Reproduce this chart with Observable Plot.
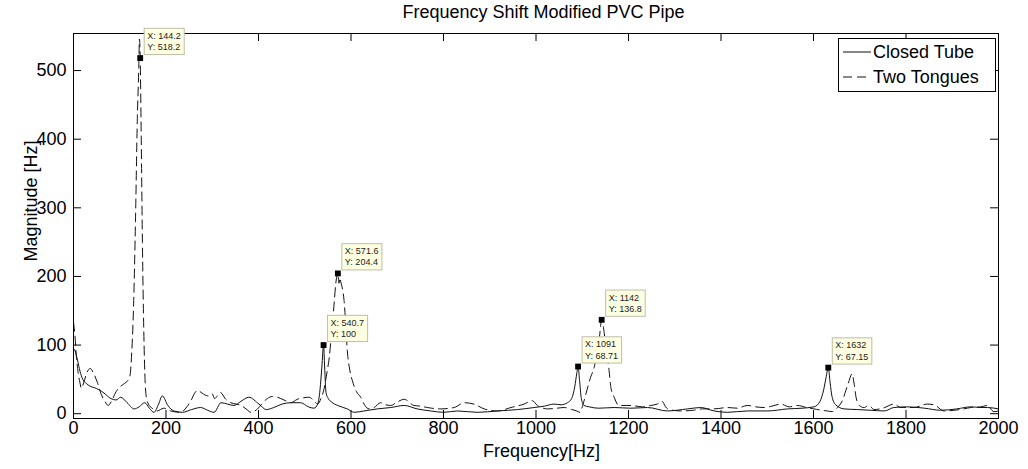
<!DOCTYPE html>
<html>
<head>
<meta charset="utf-8">
<script src="https://cdn.jsdelivr.net/npm/d3@7"></script>
<script src="https://cdn.jsdelivr.net/npm/@observablehq/plot@0.6"></script>
<style>
  html, body { margin: 0; padding: 0; background: #fff; }
  body { width: 1028px; height: 469px; overflow: hidden; font-family: "Liberation Sans", Arial, Helvetica, sans-serif; }
  #title { height: 20px; line-height: 24px; font-size: 18px; text-align: center; color: #000;
           padding-left: 89px; width: 909px; white-space: nowrap; }
  #chart svg { display: block; }
</style>
</head>
<body>
<div id="title">Frequency Shift Modified PVC Pipe</div>
<div id="chart"></div>
<script>
// ---- data ----
const closedTubeFreq = [0, 3, 8, 14, 20, 28, 36, 45, 55, 66, 81, 92, 102, 116, 131, 142, 154, 164, 174, 184, 192, 204, 217, 236, 255, 275, 290, 304, 319, 333, 347, 362, 379, 401, 417, 433, 451, 470, 491, 508, 520, 528, 533, 537, 540.7, 543, 546, 551, 558, 571, 592, 607, 628, 657, 686, 715, 743, 772, 801, 830, 873, 917, 960, 996, 1018, 1039, 1054, 1068, 1077, 1084, 1088, 1091, 1094, 1098, 1104, 1115, 1135, 1169, 1205, 1241, 1284, 1328, 1356, 1385, 1414, 1457, 1501, 1544, 1575, 1601, 1614, 1622, 1627, 1632, 1636, 1640, 1648, 1666, 1695, 1724, 1753, 1774, 1803, 1840, 1875, 1910, 1940, 1962, 1976, 2000];
const closedTubeMag = [95, 92, 80, 62, 50, 44, 40, 38, 35, 30, 22, 20, 24, 16, 7, 10, 16, 8, 2, 14, 26, 12, 4, 2, 6, 9, 5, 2, 16, 14, 12, 18, 24, 14, 6, 9, 14, 16, 16, 10, 8, 14, 35, 68, 100, 68, 31, 22, 17, 12, 7, 2, 4, 7, 9, 12, 7, 4, 2, 4, 2, 4, 6, 9, 11, 14, 13, 16, 22, 40, 58, 68.71, 50, 22, 12, 10, 8, 9, 8, 9, 4, 7, 9, 4, 2, 4, 4, 7, 8, 10, 18, 35, 52, 67.15, 45, 25, 13, 7, 6, 5, 4, 9, 10, 8, 5, 7, 10, 9, 9, 7];

const twoTonguesFreq = [0, 3, 6, 10, 14, 17, 22, 28, 36, 44, 52, 60, 68, 75, 82, 92, 102, 110, 117, 122, 126, 130, 134, 138, 141, 142.6, 144.2, 146.5, 149, 152, 155, 158, 162, 170, 181, 195, 210, 232, 245, 254, 262, 268, 278, 290, 300, 305, 311, 318, 328, 340, 352, 362, 375, 383, 398, 408, 419, 430, 441, 455, 470, 484, 496, 509, 520, 528, 535, 541, 548, 553, 557, 560, 564, 567, 571.6, 574, 576, 578, 582, 585, 589, 592, 597, 603, 612, 621, 630, 639, 650, 664, 675, 686, 700, 715, 736, 750, 765, 794, 823, 845, 866, 888, 917, 946, 974, 992, 1003, 1025, 1045, 1061, 1078, 1088, 1095, 1100, 1108, 1118, 1126, 1133, 1137, 1142, 1146, 1151, 1158, 1162, 1169, 1179, 1205, 1230, 1248, 1262, 1273, 1280, 1288, 1313, 1340, 1360, 1385, 1414, 1435, 1457, 1475, 1493, 1510, 1529, 1548, 1565, 1585, 1601, 1618, 1630, 1640, 1652, 1663, 1670, 1677, 1683, 1688, 1692, 1699, 1709, 1720, 1731, 1750, 1774, 1789, 1817, 1846, 1861, 1882, 1904, 1925, 1940, 1962, 1976, 1990, 2000];
const twoTonguesMag = [133, 115, 85, 60, 45, 37, 45, 58, 66, 58, 45, 28, 18, 12, 18, 32, 40, 44, 48, 55, 90, 160, 280, 430, 500, 546, 518.2, 400, 250, 120, 45, 22, 14, 8, 4, 8, 4, 2, 10, 19, 30, 34, 30, 26, 29, 22, 26, 31, 22, 16, 14, 12, 6, 2, 7, 15, 22, 25, 24, 20, 16, 21, 23, 24, 19, 14, 22, 34, 60, 82, 110, 131, 165, 189, 204.4, 190, 198, 192, 180, 165, 125, 92, 65, 48, 32, 24, 12, 7, 9, 16, 13, 12, 17, 21, 12, 11, 9, 7, 9, 16, 14, 7, 4, 9, 14, 19, 12, 7, 8, 9, 6, 4, 2, 10, 29, 53, 68, 95, 111, 136.8, 125, 97, 63, 38, 24, 12, 12, 10, 12, 14, 18, 10, 6, 4, 5, 7, 7, 9, 8, 12, 10, 9, 11, 14, 10, 12, 9, 7, 5, 4, 3, 9, 20, 34, 48, 58, 43, 24, 12, 9, 12, 6, 8, 14, 9, 9, 14, 13, 4, 5, 7, 9, 10, 12, 3, 4];

const tipX = [144.2, 571.6, 540.7, 1142, 1091, 1632];
const tipY = [518.2, 204.4, 100, 136.8, 68.71, 67.15];
const tipLabelX = ["144.2", "571.6", "540.7", "1142", "1091", "1632"];
const tipLabelY = ["518.2", "204.4", "100", "136.8", "68.71", "67.15"];

const xTicks = [0, 200, 400, 600, 800, 1000, 1200, 1400, 1600, 1800, 2000];
const yTicks = [0, 100, 200, 300, 400, 500];
const seriesNames = ["Closed Tube", "Two Tongues"];
const xLabel = "Frequency[Hz]";
const yLabel = "Magnitude [Hz]";

// ---- build tables ----
const closedRows = closedTubeFreq.map((f, i) => ({f, m: closedTubeMag[i]}));
const tonguesRows = twoTonguesFreq.map((f, i) => ({f, m: twoTonguesMag[i]}));
const tips = tipX.map((x, i) => ({x, y: tipY[i], label: `X: ${tipLabelX[i]}\nY: ${tipLabelY[i]}`}));

const W = 1028, H = 449;
const mL = 73, mR = 30, mT = 13, mB = 51;
const fw = W - mL - mR, fh = H - mT - mB;
const FONT = '"Liberation Sans", Arial, Helvetica, sans-serif';
const DASH = "9,5";

const chart = Plot.plot({
  width: W, height: H,
  marginLeft: mL, marginRight: mR, marginTop: mT, marginBottom: mB,
  style: {fontFamily: FONT, fontSize: "18px", color: "#000", background: "#fff"},
  x: {domain: [0, 2000]},
  y: {domain: [-7, 554]},
  marks: [
    Plot.axisX(xTicks, {tickSize: 0, tickPadding: 3, label: null, fontSize: 18, tickFormat: d => String(d)}),
    Plot.axisY(yTicks, {tickSize: 0, tickPadding: 7, label: null, fontSize: 18, tickFormat: d => String(d)}),
    Plot.tickX(xTicks, {x: d => d, insetTop: fh - 8, stroke: "#000"}),
    Plot.tickX(xTicks, {x: d => d, insetBottom: fh - 8, stroke: "#000"}),
    Plot.tickY(yTicks, {y: d => d, insetRight: fw - 8, stroke: "#000"}),
    Plot.tickY(yTicks, {y: d => d, insetLeft: fw - 8, stroke: "#000"}),
    Plot.line(closedRows, {x: "f", y: "m", stroke: "#111", strokeWidth: 1, curve: "monotone-x"}),
    Plot.line(tonguesRows, {x: "f", y: "m", stroke: "#111", strokeWidth: 1, strokeDasharray: DASH, curve: "monotone-x"}),
    Plot.frame({stroke: "#000", strokeWidth: 1}),
    Plot.dot(tips, {x: "x", y: "y", symbol: "square", r: 3.3, fill: "#000", stroke: null}),
    Plot.text(tips, {x: "x", y: "y", text: "label", textAnchor: "start", lineAnchor: "bottom",
      dx: 7, dy: -8, fontSize: 9, lineHeight: 1.25, fill: "#222"})
  ]
});
document.getElementById("chart").appendChild(chart);
const svg = d3.select(chart);

// ---- datatip background boxes (behind each datatip text) ----
svg.selectAll('g[aria-label="text"] > text').each(function () {
  const b = this.getBBox();
  const r = document.createElementNS("http://www.w3.org/2000/svg", "rect");
  const t = this.getAttribute("transform");
  if (t) r.setAttribute("transform", t);
  r.setAttribute("x", b.x - 3);
  r.setAttribute("y", b.y - 2.5);
  r.setAttribute("width", b.width + 6.5);
  r.setAttribute("height", b.height + 5);
  r.setAttribute("fill", "#ffffe1");
  r.setAttribute("stroke", "#bdbda8");
  r.setAttribute("stroke-width", "1");
  this.parentNode.insertBefore(r, this);
});

// ---- axis titles ----
svg.append("text").attr("x", mL + fw / 2 + 6).attr("y", H - mB + 33).attr("dy", "0.35em")
  .attr("text-anchor", "middle").attr("font-size", 18).attr("font-family", FONT).attr("fill", "#000")
  .text(xLabel);
svg.append("text").attr("transform", "translate(31, 181) rotate(-90)").attr("dy", "0.35em")
  .attr("text-anchor", "middle").attr("font-size", 18).attr("font-family", FONT).attr("fill", "#000")
  .text(yLabel);

// ---- legend (MATLAB-style box inside the axes) ----
const lg = svg.append("g").attr("transform", `translate(838, 18)`);
lg.append("rect").attr("x", 0.5).attr("y", 0.5).attr("width", 157).attr("height", 53)
  .attr("fill", "#fff").attr("stroke", "#000");
const styles = [null, DASH];
seriesNames.forEach((name, i) => {
  const yy = 14 + i * 25;
  lg.append("line").attr("x1", 5).attr("x2", 33).attr("y1", yy).attr("y2", yy)
    .attr("stroke", "#111").attr("stroke-width", 1).attr("stroke-dasharray", styles[i]);
  lg.append("text").attr("x", 35).attr("y", yy).attr("dy", "0.35em").attr("text-anchor", "start")
    .attr("font-size", 18).attr("font-family", FONT).attr("fill", "#000").text(name);
});
</script>
</body>
</html>
